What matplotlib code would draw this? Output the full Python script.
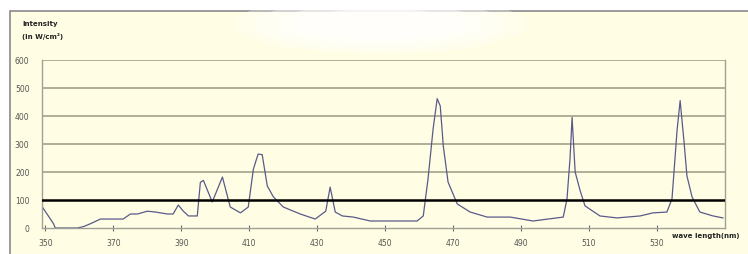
import matplotlib.pyplot as plt
from matplotlib.patches import Rectangle, Ellipse

# spectrum (wavelength in nm, irradiance)
wavelength = [349.1, 352.4, 352.9, 359.4, 361.2, 363.2, 366.2, 372.9, 375.0, 377.1,
              380.0, 382.4, 385.9, 387.6, 389.1, 390.6, 392.1, 394.7, 395.6, 396.5,
              399.1, 402.1, 404.4, 407.4, 409.7, 411.2, 412.6, 413.8, 415.3, 417.1,
              420.0, 425.0, 429.4, 432.5, 433.8, 435.3, 437.4, 440.6, 445.6, 459.4,
              461.2, 462.6, 464.1, 465.3, 466.2, 467.1, 468.5, 471.2, 475.0, 480.0,
              486.8, 493.5, 502.4, 503.5, 504.4, 505.0, 505.9, 507.4, 508.8, 513.2,
              518.2, 525.0, 528.8, 532.9, 534.4, 535.9, 536.8, 538.0, 538.8, 540.3,
              542.6, 546.5, 549.4]
irradiance = [75, 15, 0, 0, 5, 15, 32, 32, 50, 50,
              60, 57, 50, 50, 82, 60, 43, 43, 163, 170,
              93, 182, 75, 54, 75, 210, 264, 262, 150, 111,
              75, 50, 32, 60, 146, 57, 43, 39, 25, 25,
              43, 175, 354, 462, 436, 293, 164, 86, 57, 39,
              39, 25, 39, 104, 250, 395, 200, 132, 79, 43,
              36, 43, 54, 57, 104, 350, 455, 300, 186, 111,
              57, 43, 36]

x_ticks = [350, 370, 390, 410, 430, 450, 470, 490, 510, 530]
y_ticks = [0, 100, 200, 300, 400, 500, 600]

W, H = 748, 255
cream = '#fffee4'

fig = plt.figure(figsize=(W / 100, H / 100), dpi=100, facecolor='white')

# cream panel with its grey frame (behind everything)
fig.patches.append(Rectangle((10 / W, -0.05), 1.0, 1 - 12 / H + 0.05,
                             transform=fig.transFigure, facecolor=cream,
                             edgecolor='#8a8a8a', lw=1.2, zorder=-10))

ax = fig.add_axes([42 / W, 1 - 229 / H, (725 - 42) / W, (229 - 61) / H])
ax.set_facecolor(cream)

# horizontal grid, with the 100 level drawn as a heavy black line
for v in y_ticks[1:]:
    if v == 100:
        ax.axhline(v, color='black', lw=1.8, zorder=3)
    else:
        ax.axhline(v, color='#9a9a84', lw=1.1, zorder=1)

ax.plot(wavelength, irradiance, color='#5a5a8a', lw=0.9, zorder=2)

ax.set_xlim(349, 550)
ax.set_ylim(0, 600)
ax.set_xticks(x_ticks)
ax.set_xticklabels([str(t) for t in x_ticks])
ax.set_yticks(y_ticks)
ax.tick_params(axis='x', direction='inout', length=4, width=0.8, color='#6a6a6a',
               labelsize=5.5, labelcolor='#555555', pad=5)
ax.tick_params(axis='y', length=0, labelsize=5.5, labelcolor='#555555', pad=9)
for s in ax.spines.values():
    s.set_color('#a0a096')
    s.set_linewidth(1.0)
ax.spines['top'].set_visible(False)

fig.text(22 / W, 1 - 24 / H, 'Intensity', fontsize=5, fontweight='bold',
         color='#222222', va='center', ha='left')
fig.text(22 / W, 1 - 37 / H, '(in W/cm²)', fontsize=5, fontweight='bold',
         color='#222222', va='center', ha='left')
fig.text(740 / W, 1 - 236 / H, 'wave length(nm)', fontsize=5, fontweight='bold',
         color='#222222', va='center', ha='right')

# soft white haze near the top of the panel
for i, a in enumerate([0.3, 0.35, 0.45, 0.6]):
    w = 290 - i * 40
    h = 60 - i * 10
    fig.patches.append(Ellipse((380 / W, 1 - 25 / H), w / W, h / H,
                               transform=fig.transFigure, facecolor='white',
                               edgecolor='none', alpha=a, zorder=5))

fig.savefig('out.png', dpi=100, facecolor='white')
